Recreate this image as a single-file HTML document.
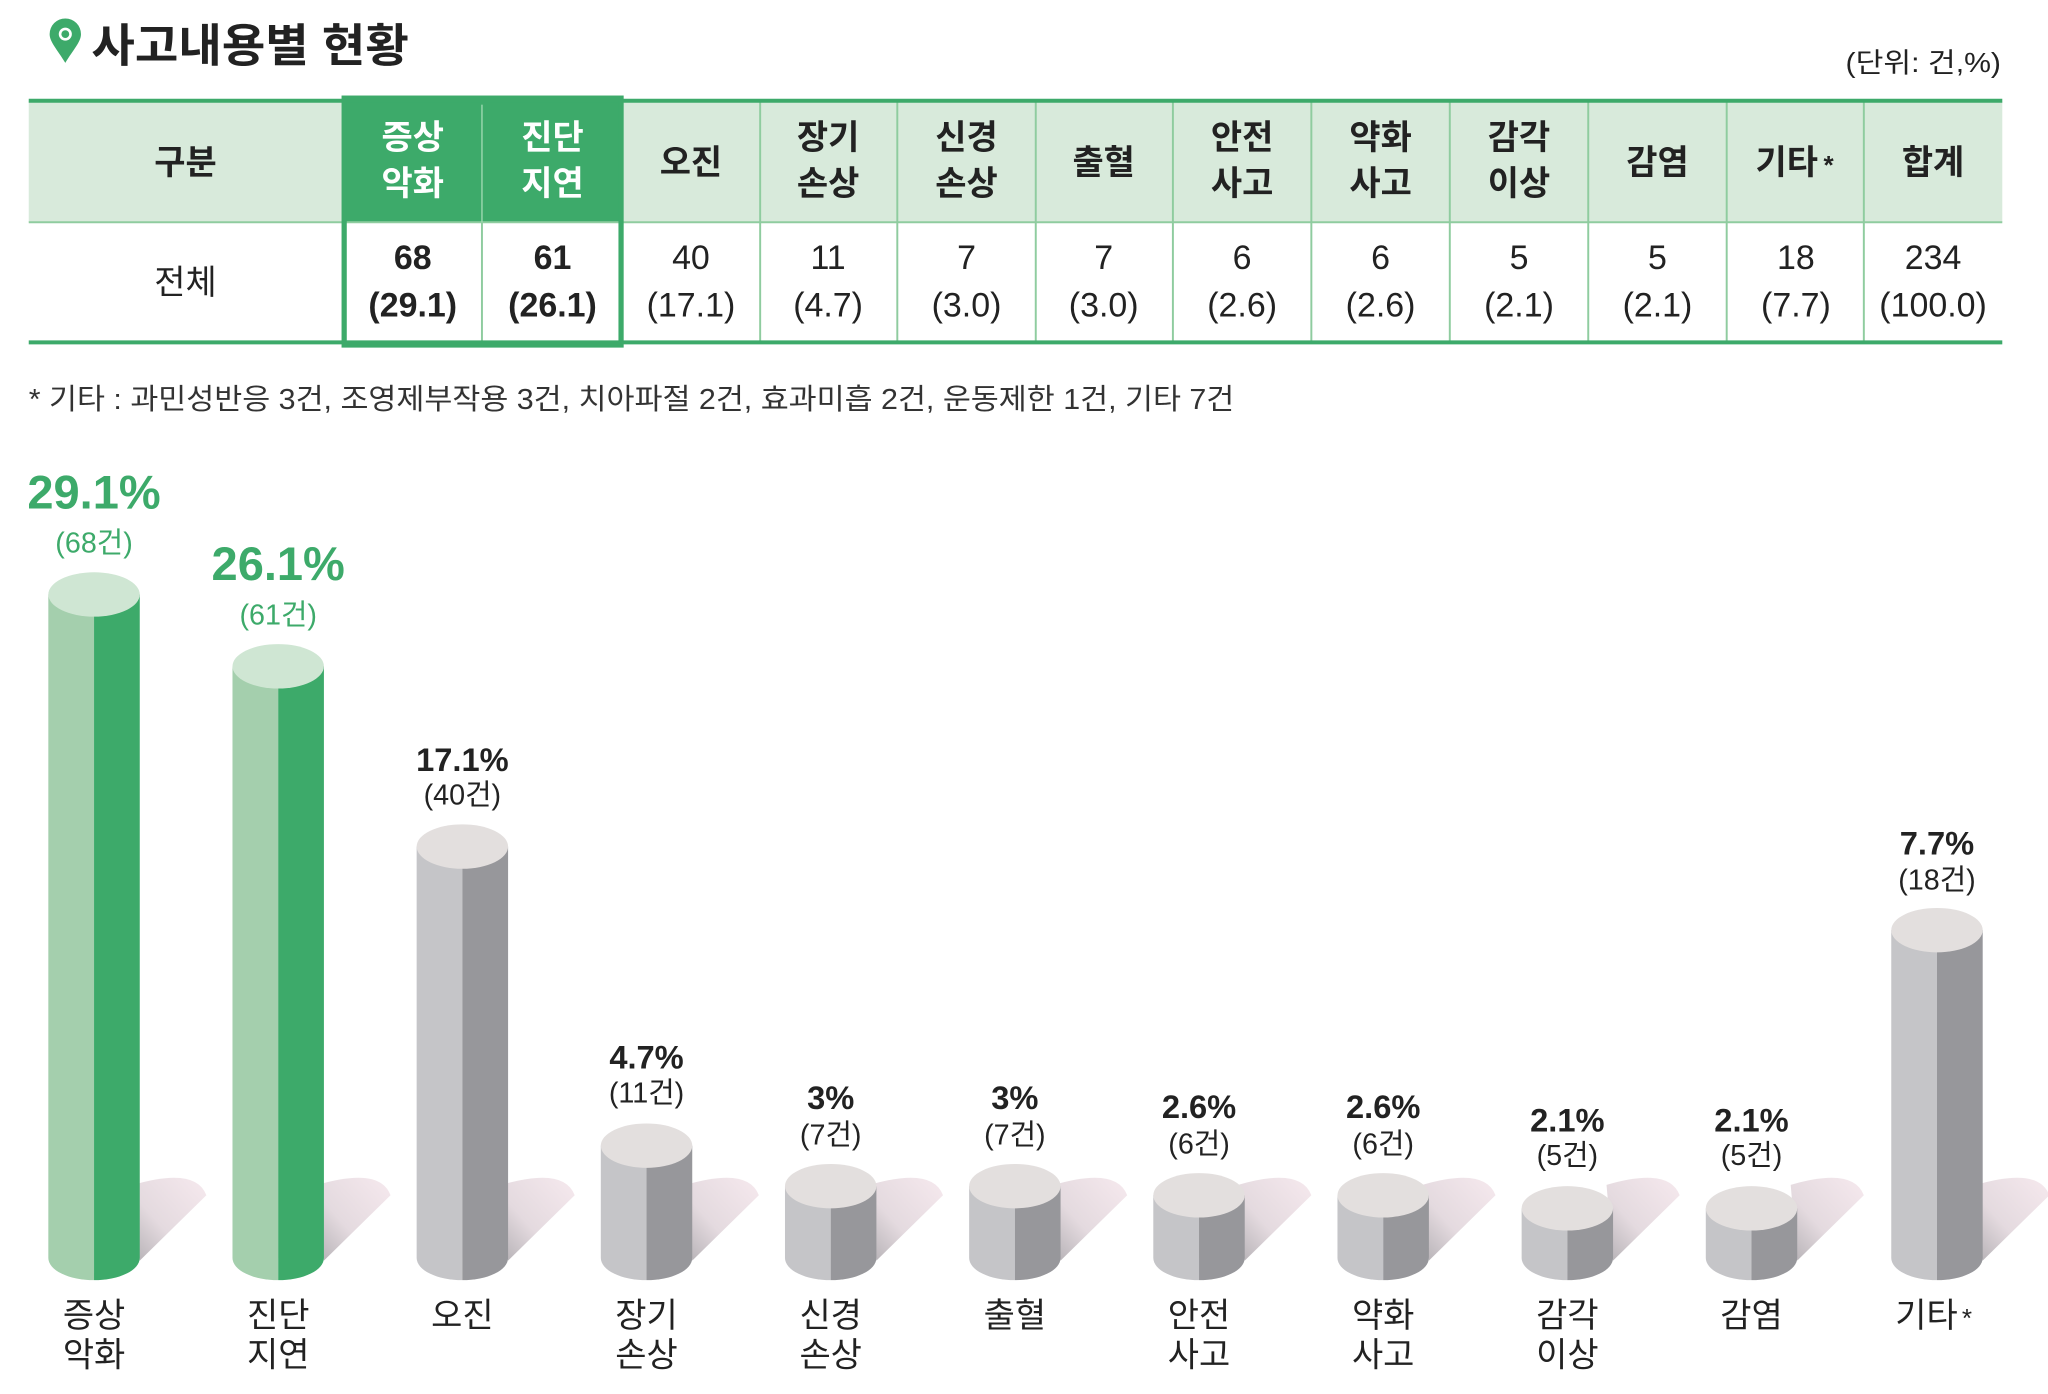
<!DOCTYPE html>
<html><head><meta charset="utf-8"><style>
html,body{margin:0;padding:0;background:#fff;}
svg{display:block;}
text{font-family:"Liberation Sans","Noto Sans CJK KR",sans-serif;}
</style></head><body>
<svg id="s" width="2048" height="1394" viewBox="0 0 1568 1067" xmlns="http://www.w3.org/2000/svg">
<defs>
<linearGradient id="sh" x1="1" y1="0" x2="0" y2="1">
<stop offset="0" stop-color="#f6e9ee"/><stop offset="0.6" stop-color="#e4dadf"/><stop offset="1" stop-color="#b5b1b5"/>
</linearGradient>
</defs>
<!-- title -->
<path d="M50,48 C44,38 38,32 38,26 A12,12 0 0 1 62,26 C62,32 56,38 50,48 Z" fill="#3daa6a"/>
<circle cx="50" cy="26" r="5" fill="#fff"/>
<circle cx="50" cy="26" r="3" fill="#3daa6a"/>
<text x="70" y="47" font-size="35" font-weight="bold" fill="#222" textLength="243" lengthAdjust="spacingAndGlyphs">사고내용별 현황</text>
<text x="1413" y="55" font-size="21" fill="#222" textLength="119" lengthAdjust="spacingAndGlyphs">(단위: 건,%)</text>
<!-- table -->
<rect x="22" y="77" width="1511" height="93" fill="#d8eadb"/>
<rect x="262" y="75" width="215" height="95" fill="#3daa6a"/>
<g stroke="#8fcc9f" stroke-width="1.5">
<line x1="582" y1="78" x2="582" y2="262"/><line x1="687" y1="78" x2="687" y2="262"/><line x1="793" y1="78" x2="793" y2="262"/><line x1="898" y1="78" x2="898" y2="262"/><line x1="1004" y1="78" x2="1004" y2="262"/><line x1="1110" y1="78" x2="1110" y2="262"/><line x1="1216" y1="78" x2="1216" y2="262"/><line x1="1322" y1="78" x2="1322" y2="262"/><line x1="1427" y1="78" x2="1427" y2="262"/>
<line x1="369" y1="170" x2="369" y2="262"/>
<line x1="22" y1="170" x2="1533" y2="170"/>
</g>
<line x1="369" y1="80" x2="369" y2="170" stroke="#a5dcb5" stroke-width="1"/>
<line x1="22" y1="77" x2="1533" y2="77" stroke="#3daa6a" stroke-width="3"/>
<line x1="22" y1="262" x2="1533" y2="262" stroke="#3daa6a" stroke-width="3"/>
<rect x="263.5" y="75" width="212" height="189" fill="none" stroke="#3daa6a" stroke-width="4"/>
<g font-size="26" font-weight="bold" text-anchor="middle" fill="#222">
<text x="142" y="133">구분</text>
<text x="316" y="114" fill="#fff">증상</text><text x="316" y="149" fill="#fff">악화</text>
<text x="423" y="114" fill="#fff">진단</text><text x="423" y="149" fill="#fff">지연</text>
<text x="529" y="133">오진</text>
<text x="634" y="114">장기</text><text x="634" y="149">손상</text>
<text x="740" y="114">신경</text><text x="740" y="149">손상</text>
<text x="845" y="133">출혈</text>
<text x="951" y="114">안전</text><text x="951" y="149">사고</text>
<text x="1057" y="114">약화</text><text x="1057" y="149">사고</text>
<text x="1163" y="114">감각</text><text x="1163" y="149">이상</text>
<text x="1269" y="133">감염</text>
<text x="1368" y="133">기타</text><text x="1400" y="133" font-size="20">*</text>
<text x="1480" y="133">합계</text>
</g>
<g font-size="26" text-anchor="middle" fill="#222">
<text x="142" y="225">전체</text>
<text x="316" y="206" font-weight="bold">68</text><text x="316" y="242" font-weight="bold">(29.1)</text>
<text x="423" y="206" font-weight="bold">61</text><text x="423" y="242" font-weight="bold">(26.1)</text>
<text x="529" y="206">40</text><text x="529" y="242">(17.1)</text>
<text x="634" y="206">11</text><text x="634" y="242">(4.7)</text>
<text x="740" y="206">7</text><text x="740" y="242">(3.0)</text>
<text x="845" y="206">7</text><text x="845" y="242">(3.0)</text>
<text x="951" y="206">6</text><text x="951" y="242">(2.6)</text>
<text x="1057" y="206">6</text><text x="1057" y="242">(2.6)</text>
<text x="1163" y="206">5</text><text x="1163" y="242">(2.1)</text>
<text x="1269" y="206">5</text><text x="1269" y="242">(2.1)</text>
<text x="1375" y="206">18</text><text x="1375" y="242">(7.7)</text>
<text x="1480" y="206">234</text><text x="1480" y="242">(100.0)</text>
</g>
<text x="22" y="313" font-size="22" fill="#333" textLength="923" lengthAdjust="spacingAndGlyphs">* 기타 : 과민성반응 3건, 조영제부작용 3건, 치아파절 2건, 효과미흡 2건, 운동제한 1건, 기타 7건</text>
<g id="bars"></g>
<!-- bar labels -->
<g text-anchor="middle">
<text x="72" y="389" font-size="36" font-weight="bold" fill="#3daa6a">29.1%</text>
<text x="72" y="423" font-size="22" fill="#3daa6a">(68건)</text>
<text x="213" y="444" font-size="36" font-weight="bold" fill="#3daa6a">26.1%</text>
<text x="213" y="478" font-size="22" fill="#3daa6a">(61건)</text>
<g fill="#222">
<text x="354" y="590" font-size="25" font-weight="bold">17.1%</text><text x="354" y="616" font-size="22">(40건)</text>
<text x="495" y="818" font-size="25" font-weight="bold">4.7%</text><text x="495" y="844" font-size="22">(11건)</text>
<text x="636" y="849" font-size="25" font-weight="bold">3%</text><text x="636" y="876" font-size="22">(7건)</text>
<text x="777" y="849" font-size="25" font-weight="bold">3%</text><text x="777" y="876" font-size="22">(7건)</text>
<text x="918" y="856" font-size="25" font-weight="bold">2.6%</text><text x="918" y="883" font-size="22">(6건)</text>
<text x="1059" y="856" font-size="25" font-weight="bold">2.6%</text><text x="1059" y="883" font-size="22">(6건)</text>
<text x="1200" y="866" font-size="25" font-weight="bold">2.1%</text><text x="1200" y="892" font-size="22">(5건)</text>
<text x="1341" y="866" font-size="25" font-weight="bold">2.1%</text><text x="1341" y="892" font-size="22">(5건)</text>
<text x="1483" y="654" font-size="25" font-weight="bold">7.7%</text><text x="1483" y="681" font-size="22">(18건)</text>
</g>
<g font-size="26" fill="#222">
<text x="72" y="1016">증상</text><text x="72" y="1046">악화</text>
<text x="213" y="1016">진단</text><text x="213" y="1046">지연</text>
<text x="354" y="1016">오진</text>
<text x="495" y="1016">장기</text><text x="495" y="1046">손상</text>
<text x="636" y="1016">신경</text><text x="636" y="1046">손상</text>
<text x="777" y="1016">출혈</text>
<text x="918" y="1016">안전</text><text x="918" y="1046">사고</text>
<text x="1059" y="1016">약화</text><text x="1059" y="1046">사고</text>
<text x="1200" y="1016">감각</text><text x="1200" y="1046">이상</text>
<text x="1341" y="1016">감염</text>
<text x="1475" y="1016">기타</text><text x="1506" y="1016" font-size="20">*</text>
</g>
</g>
</svg>
<script>
(function(){
var cx=[72,213,354,495,636,777,918,1059,1200,1341,1483];
var ty=[455,510,648,877,908,908,915,915,925,925,712];
var by=963,r=35,ry=17,g=document.getElementById('bars'),h='';
for(var i=0;i<cx.length;i++){
 var c=cx[i],t=ty[i],gr=i<2;
 var L=gr?'#a4cfad':'#c5c5c8',D=gr?'#3daa6a':'#97979b',T=gr?'#cfe6d3':'#e3dfde';
 h+='<path d="M'+(c+30)+','+(by-56)+' Q'+(c+78)+','+(by-70)+' '+(c+86)+','+(by-48)+' L'+(c+35)+','+(by+2)+' Z" fill="url(#sh)"/>';
 h+='<path d="M'+(c-r)+','+t+' L'+c+','+t+' L'+c+','+(by+ry)+' A'+r+','+ry+' 0 0 1 '+(c-r)+','+by+' Z" fill="'+L+'"/>';
 h+='<path d="M'+c+','+t+' L'+(c+r)+','+t+' L'+(c+r)+','+by+' A'+r+','+ry+' 0 0 1 '+c+','+(by+ry)+' Z" fill="'+D+'"/>';
 h+='<ellipse cx="'+c+'" cy="'+t+'" rx="'+r+'" ry="'+ry+'" fill="'+T+'"/>';
}
g.innerHTML=h;
})();
</script>
</body></html>
